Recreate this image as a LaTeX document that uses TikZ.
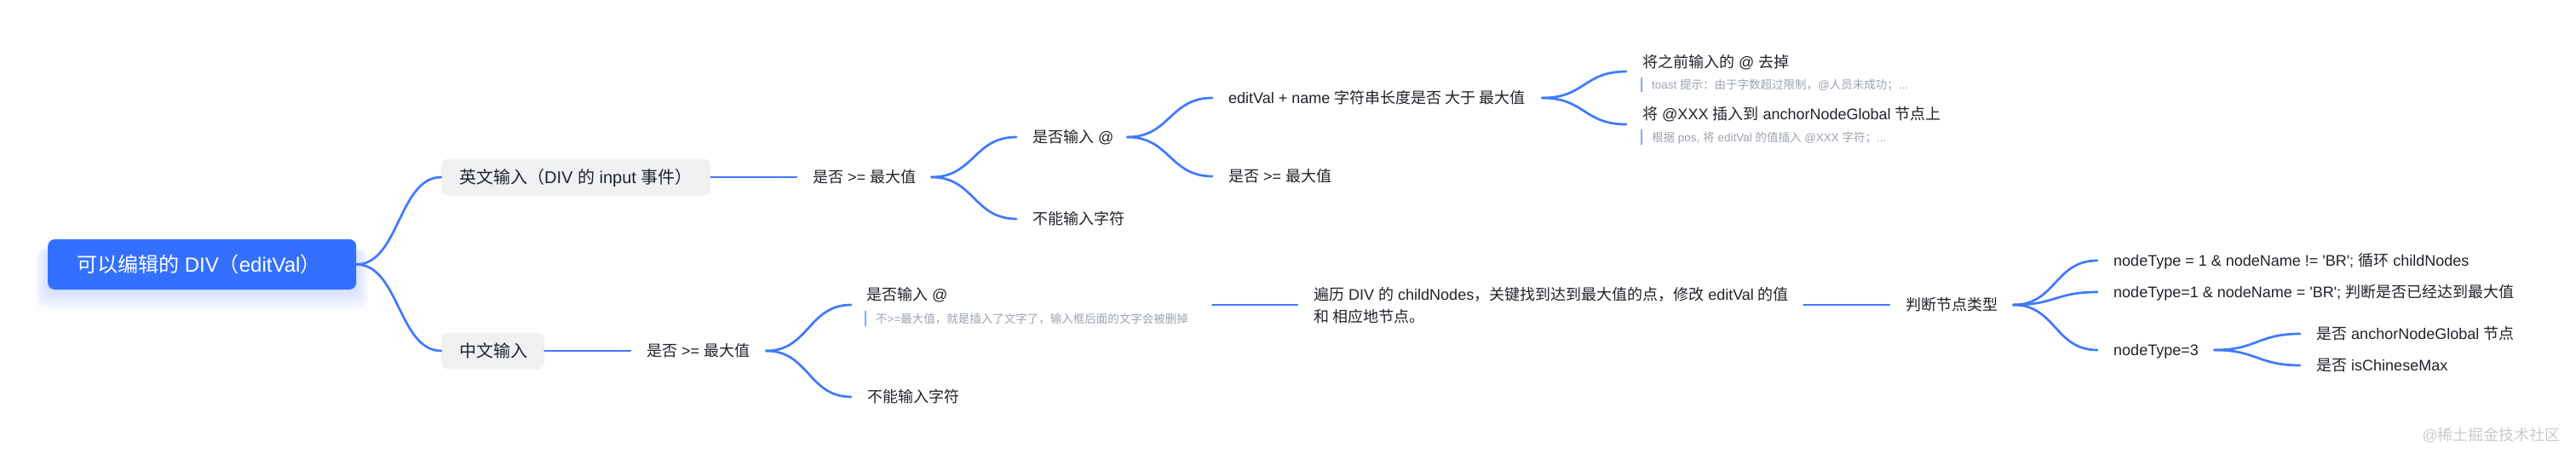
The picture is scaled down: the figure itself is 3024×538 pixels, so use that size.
\documentclass[tikz,border=0pt]{standalone}
\usepackage{fontspec}
\newfontfamily\latinfam{Liberation Sans}
\newfontfamily\cjkfam{Noto Sans CJK SC}
\newcommand{\zh}[1]{{\cjkfam #1}}
\newcommand{\lb}[2]{\makebox[#1pt][l]{#2}}
\newcommand{\branch}[2]{\draw[link] (#1.east) .. controls +(50,0) and +(-50,0) .. (#2.west);}
\definecolor{linkblue}{HTML}{4079FF}
\definecolor{rootblue}{HTML}{3370FF}
\definecolor{boxgrey}{HTML}{F0F1F3}
\definecolor{inkdark}{HTML}{1F2329}
\definecolor{notegrey}{HTML}{9CA3AF}
\definecolor{barblue}{HTML}{82A7FF}
\definecolor{markgrey}{HTML}{C9CBCF}
\tikzset{
  x=1pt,y=-1pt,
  link/.style={draw=linkblue,line width=2.7pt,line cap=round},
  notebar/.style={draw=barblue,line width=2.4pt},
  leaf/.style={anchor=west,inner xsep=19pt,inner ysep=0pt,text=inkdark,font=\latinfam\fontsize{18}{26}\selectfont,text height=13pt,text depth=0pt},
  holder/.style={anchor=west,inner sep=0pt,minimum height=40pt},
  title/.style={anchor=west,inner sep=0pt,text=inkdark,font=\latinfam\fontsize{18}{26}\selectfont,text height=13pt,text depth=0pt},
  note/.style={anchor=west,inner xsep=12pt,inner ysep=0pt,minimum height=17.5pt,text=notegrey,font=\latinfam\fontsize{13.5}{18}\selectfont,text height=10.5pt,text depth=0pt},
  subbox/.style={anchor=west,fill=boxgrey,rounded corners=8pt,inner xsep=21pt,inner ysep=0pt,minimum height=43pt,text=inkdark,font=\latinfam\fontsize{20}{26}\selectfont,text height=15pt,text depth=0pt},
  rootbox/.style={anchor=west,fill=rootblue,rounded corners=8pt,inner xsep=34pt,inner ysep=0pt,minimum height=59pt,text=white,font=\latinfam\fontsize{24}{30}\selectfont,text height=18pt,text depth=0pt},
  glow/.style={fill=rootblue,opacity=0.014,rounded corners=10pt},
  markfont/.style={anchor=east,inner sep=0pt,text=markgrey,font=\latinfam\fontsize{18}{24}\selectfont}
}
\begin{document}
\begin{tikzpicture}
\useasboundingbox (0,0) rectangle (3024,538);
\fill[white] (0,0) rectangle (3024,538);
% root shadow
\foreach \s in {2,4,...,24}{
  \fill[glow] (56-\s*0.6,292) rectangle (418+\s*0.6,340+\s);
}
\node[rootbox] (root) at (56,310.5) {\lb{294}{\zh{可以编辑的} DIV\zh{（}editVal\zh{）}}};
\node[subbox] (en) at (518,208) {\lb{274}{\zh{英文输入（}DIV \zh{的} input \zh{事件）}}};
\node[subbox] (cn) at (518,412) {\lb{79}{\zh{中文输入}}};
% English branch
\node[leaf] (a1) at (935,208) {\lb{120}{\zh{是否} >= \zh{最大值}}};
\node[leaf] (a2) at (1193,161) {\lb{92}{\zh{是否输入} @}};
\node[leaf] (a3) at (1193,257) {\lb{106}{\zh{不能输入字符}}};
\node[leaf] (a4) at (1423,115) {\lb{349}{editVal + name \zh{字符串长度是否 大于 最大值}}};
\node[leaf] (a5) at (1423,207) {\lb{120}{\zh{是否} >= \zh{最大值}}};
\node[holder] (h1) at (1909,84) {};
\node[holder] (h2) at (1909,146) {};
\node[title] (t1) at (1928,73) {\zh{将之前输入的} @ \zh{去掉}};
\node[note] (n1) at (1927,99.5) {toast \zh{提示：由于字数超过限制，}@\zh{人员未成功；}...};
\node[title] (t2) at (1928,134) {\zh{将} @XXX \zh{插入到} anchorNodeGlobal \zh{节点上}};
\node[note] (n2) at (1927,161) {\zh{根据} pos, \zh{将} editVal \zh{的值插入} @XXX \zh{字符；}...};
% Chinese branch
\node[leaf] (b1) at (740,412) {\lb{121}{\zh{是否} >= \zh{最大值}}};
\node[holder,minimum width=424pt] (b2) at (999,358) {};
\node[title] (t3) at (1017,346) {\zh{是否输入} @};
\node[note] (n3) at (1016,374) {\zh{不}>=\zh{最大值，就是插入了文字了，输入框后面的文字会被删掉}};
\node[leaf] (b3) at (999,466) {\lb{106}{\zh{不能输入字符}}};
\node[leaf,align=left,text height=,text depth=] (c1) at (1523,358) {\lb{556}{\rule{0pt}{17pt}\zh{遍历} DIV \zh{的} childNodes\zh{，关键找到达到最大值的点，修改} editVal \zh{的值}}\\\lb{556}{\zh{和 相应地节点。}}};
\node[leaf] (c2) at (2218,358) {\lb{107}{\zh{判断节点类型}}};
\node[leaf] (d1) at (2462,306) {\lb{415}{nodeType = 1 \& nodeName != 'BR'; \zh{循环} childNodes}};
\node[leaf] (d2) at (2462,343) {\lb{465}{nodeType=1 \& nodeName = 'BR'; \zh{判断是否已经达到最大值}}};
\node[leaf] (d3) at (2462,411) {\lb{99}{nodeType=3}};
\node[leaf] (e1) at (2700,392) {\lb{231}{\zh{是否} anchorNodeGlobal \zh{节点}}};
\node[leaf] (e2) at (2700,429) {\lb{152}{\zh{是否} isChineseMax}};
\node[markfont] (wm) at (3006,511) {@\zh{稀土掘金技术社区}};
% note bars
\draw[notebar] (n1.north west) -- (n1.south west);
\draw[notebar] (n2.north west) -- (n2.south west);
\draw[notebar] (n3.north west) -- (n3.south west);
% connectors
\branch{root}{en}
\branch{root}{cn}
\draw[link] (en.east) -- (a1.west);
\draw[link] (cn.east) -- (b1.west);
\branch{a1}{a2}
\branch{a1}{a3}
\branch{a2}{a4}
\branch{a2}{a5}
\branch{a4}{h1}
\branch{a4}{h2}
\branch{b1}{b2}
\branch{b1}{b3}
\draw[link] (b2.east) -- (c1.west);
\draw[link] (c1.east) -- (c2.west);
\branch{c2}{d1}
\branch{c2}{d2}
\branch{c2}{d3}
\branch{d3}{e1}
\branch{d3}{e2}
\end{tikzpicture}
\end{document}
